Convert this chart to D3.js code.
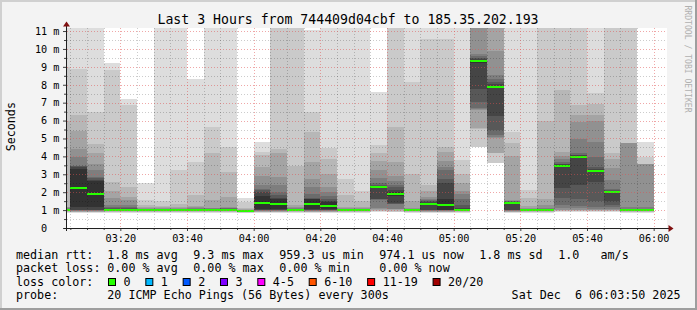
<!DOCTYPE html>
<html>
<head>
<meta charset="utf-8">
<script src="https://cdn.jsdelivr.net/npm/d3@7"></script>
<style>
body { margin: 0; background: #f3f3f3; }
svg text { font-family: "DejaVu Sans Mono", monospace; fill: #000; }
</style>
</head>
<body>
<div id="chart"></div>
<script>
// 5 minute slots (start time) and the 20 sorted pings of each slot, in ms
var slotStart = ["03:00","03:05","03:10","03:15","03:20","03:25","03:30","03:35","03:40","03:45",
  "03:50","03:55","04:00","04:05","04:10","04:15","04:20","04:25","04:30","04:35",
  "04:40","04:45","04:50","04:55","05:00","05:05","05:10","05:15","05:20","05:25",
  "05:30","05:35","05:40","05:45","05:50","05:55"];
var lowStd = [0.83,0.88,0.91,0.93,0.95,0.96,0.97,0.98,0.98,0.99];
var lowUp = [0.83,0.87,0.90,0.92,0.94,0.96,0.98,1.00,1.02];
var pingsMs = [
  [...lowStd, 1.00,1.02,1.04,1.06,1.10,1.15,1.20,6.00,9.00,11.60],
  [...lowUp, 1.16, 3.30,3.40,3.44,3.47,3.97,4.42,5.42,6.32,8.90,11.60],
  [...lowUp, 1.16, 2.60,2.70,2.80,2.85,3.25,3.60,4.18,4.68,6.50,11.60],
  [...lowStd, 1.00,1.04,1.10,1.18,1.30,1.70,2.08,2.55,8.80,9.23],
  [...lowStd, 1.00,1.04,1.10,1.18,1.30,1.55,1.75,2.30,6.86,7.19],
  [...lowStd, 1.00,1.01,1.02,1.04,1.08,1.14,1.20,1.30,1.56,2.52],
  [...lowStd, 1.00,1.01,1.02,1.04,1.07,1.12,1.18,1.25,1.50,11.60],
  [...lowStd, 1.00,1.01,1.02,1.04,1.08,1.14,1.20,1.35,3.25,11.60],
  [...lowStd, 1.00,1.01,1.02,1.05,1.10,1.15,1.24,1.86,3.69,8.30],
  [...lowStd, 1.02,1.03,1.04,1.06,1.09,1.14,1.56,4.17,5.63,11.60],
  [...lowStd, 1.02,1.04,1.06,1.09,1.14,1.20,1.75,3.10,4.50,11.60],
  [0.82,0.86,0.88,0.90,0.91,0.92,0.93,0.94,0.95,0.95, 0.96,0.97,0.98,0.99,1.00,1.02,1.05,1.10,1.45,1.65],
  [...lowUp, 1.05, 1.79,2.00,2.10,2.20,2.40,2.90,3.42,4.10,4.25,4.81],
  [...lowUp, 1.05, 1.61,1.70,1.85,2.02,2.40,2.86,4.20,4.42,11.60,12.00],
  [...lowStd, 1.00,1.02,1.04,1.07,1.12,1.20,1.30,3.47,11.60,12.00],
  [...lowUp, 1.05, 1.61,1.63,1.66,1.90,2.27,2.75,3.70,5.37,6.50,11.04],
  [...lowUp, 1.05, 1.45,1.50,1.60,1.80,2.00,2.27,3.00,3.83,4.45,11.60],
  [...lowStd, 1.00,1.01,1.02,1.04,1.07,1.12,1.20,1.84,2.73,11.60],
  [...lowStd, 1.00,1.01,1.02,1.04,1.07,1.12,1.20,1.53,2.05,11.60],
  [0.88,0.93,0.97,1.00,1.05,1.10,1.58,1.60,1.62,2.22, 2.32,2.35,2.40,2.49,2.82,3.25,3.76,4.18,4.64,7.60],
  [0.87,0.92,0.96,1.00,1.04,1.08,1.34,1.36,1.38,1.80, 2.00,2.15,2.30,2.40,2.65,2.92,3.66,5.65,11.60,12.00],
  [...lowStd, 1.00,1.01,1.02,1.04,1.07,1.12,1.50,3.00,8.16,11.60],
  [...lowUp, 1.30, 1.42,1.45,1.50,1.55,1.60,1.71,2.08,2.41,10.53,11.60],
  [0.83,0.87,0.90,0.92,0.94,0.96,0.98,0.99,1.00,1.02, 1.60,2.49,2.75,3.25,3.40,3.75,4.27,4.55,10.58,11.60],
  [...lowStd, 1.02,1.10,1.30,1.60,1.90,2.05,2.49,3.00,3.81,11.60],
  [4.50,4.52,5.54,5.56,6.60,6.67,6.72,7.04,7.78,9.22, 9.38,9.45,9.50,9.60,9.70,11.60,12.00,12.50,13.00,14.00],
  [3.62,3.64,4.20,4.21,5.00,5.10,5.20,5.50,6.26,7.81, 7.95,8.05,8.15,8.30,8.55,9.88,11.60,12.00,12.50,13.00],
  [...lowUp, 1.39, 1.45,1.47,1.48,1.50,1.52,1.56,4.03,4.74,5.37,11.60],
  [...lowStd, 1.00,1.01,1.02,1.04,1.07,1.12,1.25,1.70,2.12,11.60],
  [...lowStd, 1.00,1.01,1.03,1.06,1.12,1.30,1.62,6.00,11.60,12.00],
  [0.90,0.94,0.96,0.98,1.00,1.10,1.30,1.66,2.21,3.40, 3.50,3.55,3.60,3.70,3.85,4.00,4.25,7.70,11.60,12.00],
  [0.88,0.93,0.95,0.98,1.02,1.10,1.25,1.60,2.40,3.94, 4.02,4.05,4.10,4.20,4.95,5.90,6.30,6.86,11.60,12.00],
  [0.88,0.93,0.96,0.99,1.02,1.08,1.20,1.50,2.55,3.10, 3.22,3.30,3.38,3.97,4.83,5.95,6.32,6.95,7.55,11.60],
  [0.90,0.93,0.95,0.98,1.00,1.05,1.15,1.30,1.50,1.97, 2.03,2.05,2.10,2.20,2.66,3.36,3.83,4.18,11.60,12.00],
  [...lowStd, 1.01,1.03,1.05,1.08,1.15,4.72,4.73,4.74,11.60,12.00],
  [...lowStd, 1.01,1.03,1.05,1.08,1.15,3.55,3.56,3.57,3.98,4.80]
];
var lossCount = [0,0,0,0,0,0,0,0,0,0,0,0,0,0,0,0,0,0,0,0,0,0,0,0,0,0,0,0,0,0,0,0,0,0,0,0];

var yTickLabels = ["0\u00a0\u00a0","1 m","2 m","3 m","4 m","5 m","6 m","7 m","8 m","9 m","10 m","11 m"];
var lossLabels = ["0","1","2","3","4-5","6-10","11-19","20/20"];
var lossColors = ["#26ff00","#00b8ff","#0059ff","#7e00ff","#ff00ff","#ff5500","#ff0000","#a00000"];
var lossUpper = [0,1,2,3,5,10,19,20];
var rttLine = ["1.8 ms avg","9.3 ms max","959.3 us min","974.1 us now","1.8 ms sd","1.0\u00a0\u00a0\u00a0am/s"];
var lossLine = ["0.00 % avg","0.00 % max","0.00 % min","0.00 % now"];

var W = 697, H = 310;
var pL = 67, pR = 667, pT = 28, pB = 228;
var legendCols = [107.3, 193.3, 279.3, 379.3, 479.3, 558.3];
var charW = 7.03;

function t(s) {
  var p = s.split(":");
  return new Date(Date.UTC(2025, 11, 6, +p[0], +p[1]));
}

var svg = d3.select("#chart").append("svg")
    .attr("width", W)
    .attr("height", H);

svg.append("rect").attr("width", W).attr("height", H).attr("fill", "#f3f3f3");
// 3d frame
svg.append("path").attr("d", "M0,0H" + W + "V2H2V" + H + "H0Z").attr("fill", "#d0d0d0");
svg.append("path").attr("d", "M" + W + "," + H + "H0V" + (H - 2) + "H" + (W - 2) + "V0H" + W + "Z").attr("fill", "#9e9e9e");

var x = d3.scaleUtc().domain([t("03:04"), t("06:04")]).range([pL, pR]);
var y = d3.scaleLinear().domain([0, 11.17]).range([pB, pT]);

svg.append("rect")
    .attr("x", pL).attr("y", pT)
    .attr("width", pR - pL).attr("height", pB - pT)
    .attr("fill", "#ffffff");

svg.append("clipPath").attr("id", "plot")
  .append("rect")
    .attr("x", pL).attr("y", pT)
    .attr("width", pR - pL).attr("height", pB - pT);

var plot = svg.append("g").attr("clip-path", "url(#plot)").attr("shape-rendering", "crispEdges");

// smoke: 10 nested layers, outer ping pair lightest
slotStart.forEach((s, i) => {
  var p = pingsMs[i].slice().sort((a, b) => a - b);
  var x0 = x(t(s)), x1 = x(d3.utcMinute.offset(t(s), 5));
  for (var ibot = 1; ibot <= 10; ibot++) {
    var itop = 21 - ibot;
    var c = Math.floor(190 / 10 * (10 - ibot)) + 50;
    plot.append("rect")
        .attr("x", x0)
        .attr("width", x1 - x0)
        .attr("y", y(p[itop - 1]))
        .attr("height", y(p[ibot - 1]) - y(p[itop - 1]))
        .attr("fill", d3.rgb(c, c, c));
  }
});

// median line, coloured by loss
slotStart.forEach((s, i) => {
  var m = d3.median(pingsMs[i]);
  var li = lossUpper.findIndex(u => lossCount[i] <= u);
  var x0 = x(t(s)), x1 = x(d3.utcMinute.offset(t(s), 5));
  plot.append("rect")
      .attr("x", x0)
      .attr("width", x1 - x0)
      .attr("y", y(m) - 1)
      .attr("height", 2)
      .attr("fill", lossColors[li]);
});

// grid on top of the data
var grid = svg.append("g");
var px = v => Math.round(v) + 0.5;
var halfSteps = d3.range(1, yTickLabels.length * 2 - 1).map(d => d / 2);
grid.selectAll(".hmin").data(halfSteps.filter(d => d % 1 !== 0)).enter()
  .append("line")
    .attr("x1", pL).attr("x2", pR)
    .attr("y1", d => px(y(d))).attr("y2", d => px(y(d)))
    .attr("stroke", "rgba(0,0,0,0.2)")
    .attr("stroke-dasharray", "1,2");
var minorT = x.ticks(d3.utcMinute.every(5)).filter(d => d.getUTCMinutes() % 20 !== 0);
grid.selectAll(".vmin").data(minorT).enter()
  .append("line")
    .attr("y1", pT).attr("y2", pB)
    .attr("x1", d => px(x(d))).attr("x2", d => px(x(d)))
    .attr("stroke", "rgba(0,0,0,0.2)")
    .attr("stroke-dasharray", "1,2");
grid.selectAll(".hmaj").data(halfSteps.filter(d => d % 1 === 0)).enter()
  .append("line")
    .attr("x1", pL).attr("x2", pR)
    .attr("y1", d => px(y(d))).attr("y2", d => px(y(d)))
    .attr("stroke", "rgba(224,80,80,0.5)")
    .attr("stroke-dasharray", "1,2");
var majorT = x.ticks(d3.utcMinute.every(20));
grid.selectAll(".vmaj").data(majorT).enter()
  .append("line")
    .attr("y1", pT).attr("y2", pB)
    .attr("x1", d => px(x(d))).attr("x2", d => px(x(d)))
    .attr("stroke", "rgba(224,80,80,0.5)")
    .attr("stroke-dasharray", "1,2");

// axes
function styleAxis(g) {
  g.select(".domain").remove();
  g.attr("font-family", "DejaVu Sans Mono").attr("font-size", 10.2);
  g.selectAll(".tick line").attr("stroke", "#404040");
  g.selectAll(".tick text").attr("fill", "#000");
}
svg.append("g").attr("transform", "translate(66,0)")
    .call(d3.axisLeft(y).tickValues(halfSteps.filter(d => d % 1 !== 0)).tickSize(2).tickFormat(""))
    .call(styleAxis);
svg.append("g").attr("transform", "translate(66,0)")
    .call(d3.axisLeft(y).tickValues(yTickLabels.map((d, i) => i))
      .tickFormat((d, i) => yTickLabels[i]).tickSize(3).tickPadding(3.5))
    .call(styleAxis);
svg.append("g").attr("transform", "translate(0,228)")
    .call(d3.axisBottom(x).tickValues(minorT).tickSize(2).tickFormat(""))
    .call(styleAxis);
svg.append("g").attr("transform", "translate(0,228)")
    .call(d3.axisBottom(x).tickValues(majorT).tickFormat(d3.utcFormat("%H:%M"))
      .tickSize(3).tickPadding(3.6))
    .call(styleAxis);

svg.append("line").attr("x1", 66.5).attr("x2", 66.5).attr("y1", 231).attr("y2", 25)
    .attr("stroke", "#202020");
svg.append("line").attr("x1", 64).attr("x2", 670).attr("y1", 228.5).attr("y2", 228.5)
    .attr("stroke", "#202020");
svg.append("path").attr("d", "M66.5,21.5L70,26.5L63,26.5Z").attr("fill", "#801010");
svg.append("path").attr("d", "M673.5,228.5L668.5,225L668.5,232Z").attr("fill", "#801010");

// title and side labels
svg.append("text")
    .attr("x", 348).attr("y", 24)
    .attr("text-anchor", "middle")
    .attr("font-size", 13.2)
    .text("Last 3 Hours from 744409d04cbf to 185.35.202.193");
svg.append("text")
    .attr("transform", "translate(15.2,126.7) rotate(-90)")
    .attr("text-anchor", "middle")
    .attr("font-size", 11.7)
    .text("Seconds");
svg.append("text")
    .attr("transform", "translate(685,59) rotate(90)")
    .attr("text-anchor", "middle")
    .attr("font-size", 8.1)
    .style("fill", "#b0b0b0")
    .text("RRDTOOL / TOBI OETIKER");

// legend
var leg = svg.append("g").attr("font-size", 11.7);
function row(label, yb) {
  leg.append("text").attr("x", 16).attr("y", yb).text(label);
}
row("median rtt:", 258.6);
rttLine.forEach((s, i) => leg.append("text").attr("x", legendCols[i]).attr("y", 258.6).text(s));
row("packet loss:", 272.2);
lossLine.forEach((s, i) => leg.append("text").attr("x", legendCols[i]).attr("y", 272.2).text(s));
row("loss color:", 285.9);
var lx = 108.5;
lossLabels.forEach((s, i) => {
  leg.append("rect")
      .attr("x", lx).attr("y", 278.5)
      .attr("width", 7).attr("height", 7)
      .attr("fill", lossColors[i])
      .attr("stroke", "#000");
  leg.append("text").attr("x", lx + 15).attr("y", 285.9).text(s);
  lx += 15 + s.length * charW + 15.3;
});
row("probe:", 299.4);
leg.append("text").attr("x", legendCols[0]).attr("y", 299.4)
    .text("20 ICMP Echo Pings (56 Bytes) every 300s");
leg.append("text").attr("x", 680.5).attr("y", 299.4).attr("text-anchor", "end")
    .text("Sat Dec \u00a06 06:03:50 2025");
</script>
</body>
</html>
